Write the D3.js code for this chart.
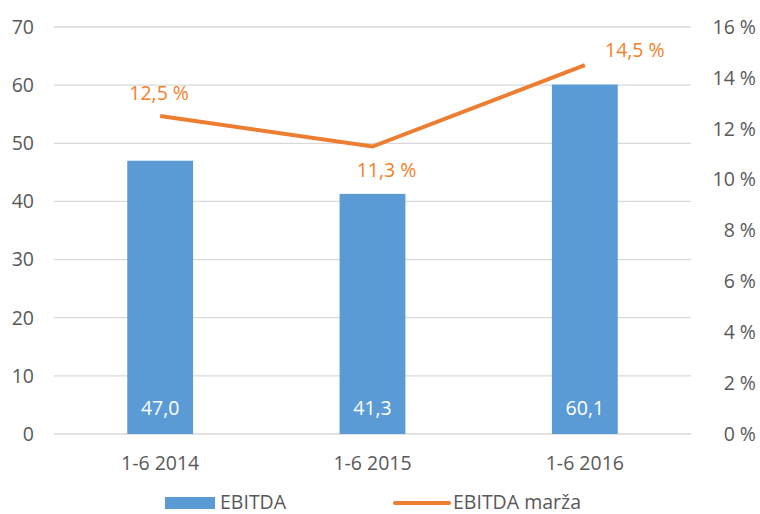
<!DOCTYPE html>
<html><head><meta charset="utf-8">
<script src="https://cdn.jsdelivr.net/npm/d3@7"></script>
<style>body{margin:0;background:#fff}svg{display:block}text{font-family:"Open Sans",sans-serif}</style>
</head><body><svg id="c" width="760" height="514"></svg>
<script>
const categories = ["1-6 2014", "1-6 2015", "1-6 2016"];
const ebitda = [47.0, 41.3, 60.1];
const margin = [12.5, 11.3, 14.5];
const leftTicks = [0, 10, 20, 30, 40, 50, 60, 70];
const rightTicks = [0, 2, 4, 6, 8, 10, 12, 14, 16];
const seriesNames = ["EBITDA", "EBITDA marža"];

const svg = d3.select("#c");
const L = 54, R = 691, T = 27, B = 434;
const FS = 19.5;
const fmt = v => v.toFixed(1).replace(".", ",");
const x = d3.scaleBand().domain(categories).range([L, R]).paddingInner(0.69).paddingOuter(0.345);
const yL = d3.scaleLinear().domain([0, 70]).range([B, T]);
const yR = d3.scaleLinear().domain([0, 16]).range([B, T]);
const textCol = "#595959", blue = "#5B9BD5", orange = "#ED7D31", lab = "#F47F2A";

svg.append("g").selectAll("line").data(leftTicks).join("line")
  .attr("x1", L).attr("x2", R).attr("y1", d => yL(d)).attr("y2", d => yL(d))
  .attr("stroke", "#d9d9d9").attr("stroke-width", 1.3);

svg.append("g").selectAll("text").data(leftTicks).join("text")
  .attr("x", 34).attr("y", d => yL(d)).attr("dy", "0.35em").attr("text-anchor", "end")
  .attr("font-size", FS).attr("fill", textCol).text(d => d);

svg.append("g").selectAll("text").data(rightTicks).join("text")
  .attr("x", 756).attr("y", d => yR(d)).attr("dy", "0.35em").attr("text-anchor", "end")
  .attr("font-size", FS).attr("fill", textCol).text(d => d + " %");

svg.append("g").selectAll("rect").data(ebitda).join("rect")
  .attr("x", (d, i) => x(categories[i])).attr("width", x.bandwidth())
  .attr("y", d => yL(d)).attr("height", d => B - yL(d)).attr("fill", blue);

svg.append("g").selectAll("text").data(ebitda).join("text")
  .attr("x", (d, i) => x(categories[i]) + x.bandwidth() / 2).attr("y", 408).attr("dy", "0.35em")
  .attr("text-anchor", "middle").attr("font-size", FS).attr("fill", "#fff").text(d => fmt(d));

svg.append("g").selectAll("text").data(categories).join("text")
  .attr("x", d => x(d) + x.bandwidth() / 2).attr("y", 463).attr("dy", "0.35em")
  .attr("text-anchor", "middle").attr("font-size", FS).attr("fill", textCol).text(d => d);

const line = d3.line().x((d, i) => x(categories[i]) + x.bandwidth() / 2).y(d => yR(d));
svg.append("path").datum(margin).attr("d", line).attr("fill", "none")
  .attr("stroke", orange).attr("stroke-width", 4).attr("stroke-linejoin", "miter");

const lblOff = [[-1, -23], [14, 24], [50, -15]];
svg.append("g").selectAll("text").data(margin).join("text")
  .attr("x", (d, i) => x(categories[i]) + x.bandwidth() / 2 + lblOff[i][0])
  .attr("y", (d, i) => yR(d) + lblOff[i][1]).attr("dy", "0.35em")
  .attr("text-anchor", "middle").attr("font-size", FS).attr("fill", lab).text(d => fmt(d) + " %");

// legend
svg.append("rect").attr("x", 165).attr("y", 497).attr("width", 50).attr("height", 12).attr("fill", blue);
svg.append("text").attr("x", 220).attr("y", 502).attr("dy", "0.35em").attr("font-size", FS).attr("fill", textCol).text(seriesNames[0]);
svg.append("line").attr("x1", 395).attr("x2", 449).attr("y1", 503).attr("y2", 503)
  .attr("stroke", orange).attr("stroke-width", 4).attr("stroke-linecap", "round");
svg.append("text").attr("x", 453).attr("y", 502).attr("dy", "0.35em").attr("font-size", FS).attr("fill", textCol).text(seriesNames[1]);
</script></body></html>
